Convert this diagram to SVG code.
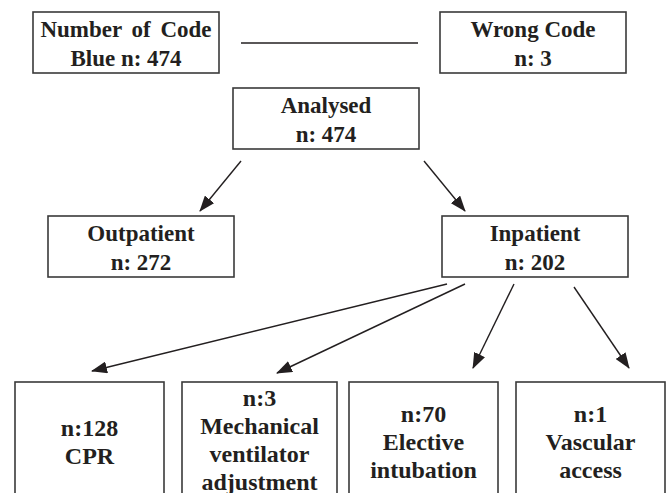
<svg xmlns="http://www.w3.org/2000/svg" width="670" height="493" viewBox="0 0 670 493">
<defs>
<style>
.box{fill:#fff;stroke:#3a3a3a;stroke-width:1.6}
.c{stroke:#231f20;stroke-width:1.4;fill:none}
</style>
<marker id="ah" markerUnits="userSpaceOnUse" markerWidth="16" markerHeight="12" viewBox="0 0 16 12" refX="15" refY="6" orient="auto">
<path d="M0,0 L16,6 L0,12 z" fill="#231f20"/>
</marker>
</defs>
<rect width="670" height="493" fill="#fff"/>
<g id="connectors">
<line class="c" x1="241" y1="43" x2="418" y2="43"/>
<line class="c" x1="241" y1="161" x2="200" y2="211" marker-end="url(#ah)"/>
<line class="c" x1="424" y1="161" x2="465" y2="211" marker-end="url(#ah)"/>
<line class="c" x1="447" y1="284" x2="92" y2="371" marker-end="url(#ah)"/>
<line class="c" x1="465" y1="284" x2="277" y2="373" marker-end="url(#ah)"/>
<line class="c" x1="514" y1="284" x2="473" y2="368" marker-end="url(#ah)"/>
<line class="c" x1="574" y1="287" x2="629" y2="368" marker-end="url(#ah)"/>
</g>
<g fill="#231f20" text-anchor="middle">
<g id="code-blue">
<rect class="box" x="33" y="12" width="186" height="61"/>
<text x="126" y="37" word-spacing="4" font-family="Liberation Serif" font-weight="bold" font-size="23">Number of Code</text>
<text x="126" y="66" font-family="Liberation Serif" font-weight="bold" font-size="23">Blue n: 474</text>
</g>
<g id="wrong-code">
<rect class="box" x="440" y="12" width="186" height="61"/>
<text x="533" y="37" font-family="Liberation Serif" font-weight="bold" font-size="23">Wrong Code</text>
<text x="533" y="66" font-family="Liberation Serif" font-weight="bold" font-size="23">n: 3</text>
</g>
<g id="analysed">
<rect class="box" x="233" y="88" width="186" height="61"/>
<text x="326" y="113" font-family="Liberation Serif" font-weight="bold" font-size="23">Analysed</text>
<text x="326" y="142" font-family="Liberation Serif" font-weight="bold" font-size="23">n: 474</text>
</g>
<g id="outpatient">
<rect class="box" x="48" y="216" width="186" height="61"/>
<text x="141" y="241" font-family="Liberation Serif" font-weight="bold" font-size="23">Outpatient</text>
<text x="141" y="270" font-family="Liberation Serif" font-weight="bold" font-size="23">n: 272</text>
</g>
<g id="inpatient">
<rect class="box" x="442" y="216" width="186" height="61"/>
<text x="535" y="241" font-family="Liberation Serif" font-weight="bold" font-size="23">Inpatient</text>
<text x="535" y="270" font-family="Liberation Serif" font-weight="bold" font-size="23">n: 202</text>
</g>
<g id="cpr">
<rect class="box" x="15" y="382" width="149" height="130"/>
<text x="89.5" y="436" font-family="Liberation Serif" font-weight="bold" font-size="24">n:128</text>
<text x="89.5" y="464" font-family="Liberation Serif" font-weight="bold" font-size="24">CPR</text>
</g>
<g id="ventilator">
<rect class="box" x="182" y="382" width="155" height="130"/>
<text x="259.5" y="406" font-family="Liberation Serif" font-weight="bold" font-size="24">n:3</text>
<text x="259.5" y="434" font-family="Liberation Serif" font-weight="bold" font-size="24">Mechanical</text>
<text x="259.5" y="462" font-family="Liberation Serif" font-weight="bold" font-size="24">ventilator</text>
<text x="259.5" y="490" font-family="Liberation Serif" font-weight="bold" font-size="24">adjustment</text>
</g>
<g id="intubation">
<rect class="box" x="349" y="382" width="149" height="130"/>
<text x="423.5" y="422" font-family="Liberation Serif" font-weight="bold" font-size="24">n:70</text>
<text x="423.5" y="450" font-family="Liberation Serif" font-weight="bold" font-size="24">Elective</text>
<text x="423.5" y="478" font-family="Liberation Serif" font-weight="bold" font-size="24">intubation</text>
</g>
<g id="vascular">
<rect class="box" x="516" y="382" width="149" height="130"/>
<text x="590.5" y="422" font-family="Liberation Serif" font-weight="bold" font-size="24">n:1</text>
<text x="590.5" y="450" font-family="Liberation Serif" font-weight="bold" font-size="24">Vascular</text>
<text x="590.5" y="478" font-family="Liberation Serif" font-weight="bold" font-size="24">access</text>
</g>
</g>
</svg>
